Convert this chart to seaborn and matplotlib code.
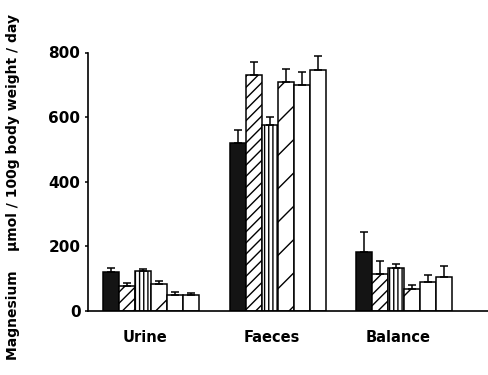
import matplotlib
matplotlib.use("Agg")
import matplotlib.pyplot as plt
import matplotlib.transforms as mtransforms
import seaborn as sns
import pandas as pd

# Magnesium excretion and balance for six dietary groups
compartments = ["Urine", "Faeces", "Balance"]
diets = ["Diet 1", "Diet 2", "Diet 3", "Diet 4", "Diet 5", "Diet 6"]

urine = [120, 78, 122, 82, 50, 48]
faeces = [520, 730, 575, 710, 700, 745]
balance = [183, 115, 134, 68, 90, 105]

urine_sem = [12, 9, 9, 12, 9, 8]
faeces_sem = [40, 40, 25, 40, 40, 45]
balance_sem = [60, 40, 10, 12, 22, 33]

y_ticks = [0, 200, 400, 600, 800]

values = {"Urine": urine, "Faeces": faeces, "Balance": balance}
errors = {"Urine": urine_sem, "Faeces": faeces_sem, "Balance": balance_sem}

df = pd.DataFrame(
    [(c, d, values[c][i]) for c in compartments for i, d in enumerate(diets)],
    columns=["compartment", "diet", "mg"],
)

sns.set_theme(style="ticks")
plt.rcParams["font.family"] = ["DejaVu Sans"]
plt.rcParams["hatch.linewidth"] = 1.0
plt.rcParams["hatch.color"] = "black"
plt.rcParams["text.color"] = "black"
plt.rcParams["xtick.color"] = "black"
plt.rcParams["ytick.color"] = "black"

fig = plt.figure(figsize=(4.89, 3.75), dpi=100)
ax = fig.add_axes([0.18, 0.171, 0.82, 0.689])

sns.barplot(
    data=df, x="compartment", y="mg", hue="diet",
    order=compartments, hue_order=diets,
    errorbar=None, width=0.76, ax=ax, legend=False,
    edgecolor="black", linewidth=1.1,
)

fills = ["#141414", "white", "white", "white", "white", "white"]
hatches = [None, "///", "||||", "/", None, None]

bar_containers = list(ax.containers)
for k, cont in enumerate(bar_containers):
    xs, ys, es = [], [], []
    for j, bar in enumerate(cont):
        bar.set_facecolor(fills[k])
        bar.set_edgecolor("black")
        if hatches[k]:
            bar.set_hatch(hatches[k])
        xs.append(bar.get_x() + bar.get_width() / 2)
        ys.append(bar.get_height())
        es.append(errors[compartments[j]][k])
    ax.errorbar(xs, ys, yerr=[[0] * len(es), es], fmt="none",
                ecolor="black", elinewidth=1.1, capsize=3.2,
                capthick=1.1, zorder=1)

ax.set_ylim(0, 800)
ax.set_xlim(-0.5, 2.67)
ax.set_yticks(y_ticks)
ax.set_yticklabels([str(t) for t in y_ticks], fontsize=11, fontweight="bold",
                   color="black")
ax.tick_params(axis="y", length=2.5, width=1.1, pad=3, color="black")
ax.tick_params(axis="x", length=0, pad=14)
shift = mtransforms.ScaledTranslation(-6 / 100, 0, fig.dpi_scale_trans)
for lbl in ax.get_xticklabels():
    lbl.set_fontsize(10.5)
    lbl.set_fontweight("bold")
    lbl.set_color("black")
    lbl.set_transform(lbl.get_transform() + shift)
ax.set_xlabel("")
ax.set_ylabel("")

sns.despine(ax=ax)
for s in ("left", "bottom"):
    ax.spines[s].set_linewidth(1.2)
    ax.spines[s].set_color("black")

fig.text(0.027, 0.5, "Magnesium    \u03bcmol / 100g body weight / day",
         rotation=90, ha="center", va="center", color="black",
         fontsize=10, fontweight="bold")

fig.savefig("out.png", dpi=100, facecolor="white")
